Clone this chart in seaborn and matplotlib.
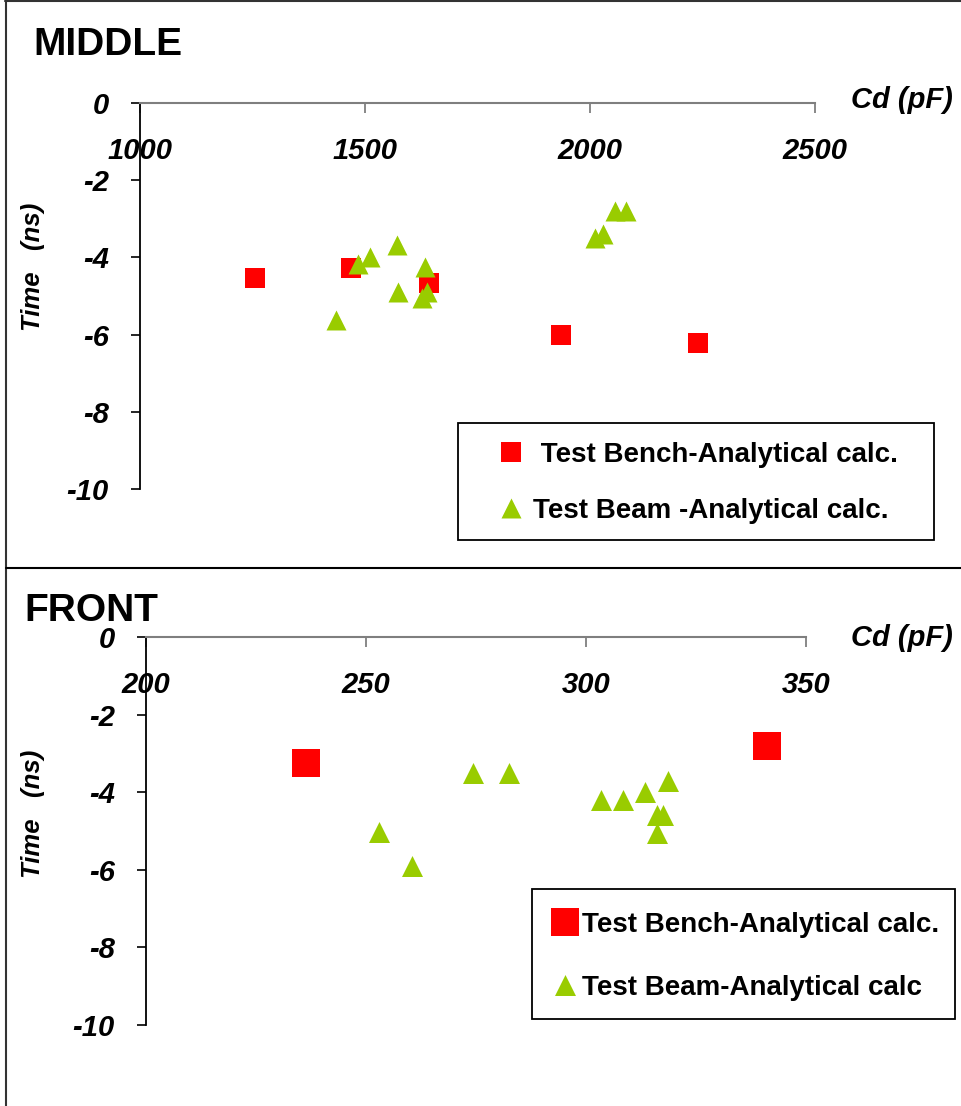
import matplotlib
matplotlib.use("Agg")
import matplotlib.pyplot as plt
from matplotlib.lines import Line2D
from matplotlib.patches import Rectangle
import seaborn as sns

# Timing offset vs detector capacitance, MIDDLE layer
mid_bench_cd = [1256, 1468, 1642, 1936, 2241]
mid_bench_t = [-4.53, -4.28, -4.67, -6.02, -6.22]
mid_beam_cd = [1435, 1485, 1511, 1570, 1574, 1626, 1633, 1638, 2012, 2030, 2056, 2081]
mid_beam_t = [-5.63, -4.18, -3.99, -3.69, -4.89, -5.05, -4.24, -4.89, -3.50, -3.40, -2.81, -2.81]

# Timing offset vs detector capacitance, FRONT layer
front_bench_cd = [236.4, 341.2]
front_bench_t = [-3.26, -2.82]
front_beam_cd = [253.0, 260.5, 274.4, 282.6, 303.4, 308.3, 313.4, 316.1, 316.1, 317.4, 318.7]
front_beam_t = [-5.03, -5.91, -3.51, -3.51, -4.19, -4.19, -4.00, -5.04, -4.59, -4.59, -3.70]

mid_xticks = [1000, 1500, 2000, 2500]
front_xticks = [200, 250, 300, 350]
yticks = [0, -2, -4, -6, -8, -10]

mid_labels = [" Test Bench-Analytical calc.", "Test Beam -Analytical calc."]
front_labels = ["Test Bench-Analytical calc.", "Test Beam-Analytical calc"]

RED = "#FF0000"
GREEN = "#99CC00"

sns.set_theme(style="white")
plt.rcParams["font.family"] = ["Liberation Sans", "DejaVu Sans"]
plt.rcParams["text.color"] = "black"
plt.rcParams["axes.labelcolor"] = "black"
plt.rcParams["xtick.labelcolor"] = "black"
plt.rcParams["ytick.labelcolor"] = "black"

W, H = 962, 1106
fig = plt.figure(figsize=(W / 100, H / 100), dpi=100)


def fx(x):
    return x / W


def fy(y):
    return 1 - y / H


def px_axes(left, top, right, bottom):
    return fig.add_axes([fx(left), fy(bottom), (right - left) / W, (bottom - top) / H])


def style_axes(ax, xticks, xlim):
    ax.set_xlim(*xlim)
    ax.set_ylim(-10, 0)
    ax.set_xticks(xticks)
    ax.set_yticks(yticks)
    ax.set_xticklabels([str(v) for v in xticks])
    ax.set_yticklabels([str(v) for v in yticks])
    for s in ("bottom", "right"):
        ax.spines[s].set_visible(False)
    ax.spines["top"].set_color("#7f7f7f")
    ax.spines["top"].set_linewidth(1.5)
    ax.spines["left"].set_color("black")
    ax.spines["left"].set_linewidth(1.3)
    ax.xaxis.set_ticks_position("top")
    ax.tick_params(axis="x", which="both", top=True, bottom=False, labeltop=True,
                   labelbottom=False, direction="in", length=7, width=1.3,
                   color="#7f7f7f", pad=-44.5, labelsize=21, labelcolor="black")
    ax.tick_params(axis="y", which="both", left=True, direction="out", length=6.5,
                   width=1.2, color="black", pad=16, labelsize=21, labelcolor="black")
    for lab in ax.get_xticklabels() + ax.get_yticklabels():
        lab.set_fontweight("bold")
        lab.set_fontstyle("italic")
    ax.set_xlabel("")
    ax.set_ylabel("")
    ax.grid(False)
    ax.set_facecolor("none")


def add_legend(ax, left, top, handlelength, textpad, spacing):
    leg = ax.legend(loc="upper left", bbox_to_anchor=(fx(left), fy(top)),
                    bbox_transform=fig.transFigure, borderaxespad=0, borderpad=0,
                    frameon=False, prop={"weight": "bold", "size": 20},
                    handlelength=handlelength, handletextpad=textpad,
                    labelspacing=spacing, scatterpoints=1, scatteryoffsets=[0.5])
    for t in leg.get_texts():
        t.set_color("black")
    return leg


def add_box(left, top, right, bottom):
    fig.add_artist(Rectangle((fx(left), fy(bottom)), (right - left) / W, (bottom - top) / H,
                             transform=fig.transFigure, facecolor="none",
                             edgecolor="black", linewidth=1.3))


# MIDDLE panel
ax1 = px_axes(140, 103, 815, 489)
sns.scatterplot(x=mid_bench_cd, y=mid_bench_t, ax=ax1, marker="s", color=RED,
                s=228, linewidth=0, label=mid_labels[0], zorder=3)
sns.scatterplot(x=mid_beam_cd, y=mid_beam_t, ax=ax1, marker="^", color=GREEN,
                s=207, linewidth=0, label=mid_labels[1], zorder=4)
style_axes(ax1, mid_xticks, (1000, 2500))
add_legend(ax1, 497, 442, 1.0, 0.29, 1.065)
add_box(458, 423, 934, 540)

# FRONT panel
ax2 = px_axes(146, 637, 806, 1025)
sns.scatterplot(x=front_bench_cd, y=front_bench_t, ax=ax2, marker="s", color=RED,
                s=378, linewidth=0, label=front_labels[0], zorder=3)
sns.scatterplot(x=front_beam_cd, y=front_beam_t, ax=ax2, marker="^", color=GREEN,
                s=228, linewidth=0, label=front_labels[1], zorder=4)
style_axes(ax2, front_xticks, (200, 350))
add_legend(ax2, 551.6, 912, 1.0, 0.09, 1.32)
add_box(532, 889, 955, 1019)

# Panel titles, axis captions
fig.text(fx(33), fy(55), "MIDDLE", fontsize=28, fontweight="bold", va="baseline")
fig.text(fx(24), fy(621), "FRONT", fontsize=28, fontweight="bold", va="baseline")
for base in (108, 646):
    fig.text(fx(953), fy(base), "Cd (pF)", fontsize=21, fontweight="bold",
             fontstyle="italic", ha="right", va="baseline")
for cy in (267, 814):
    fig.text(fx(33), fy(cy), "Time   (ns)", fontsize=18.5, fontweight="bold",
             fontstyle="italic", rotation=90, ha="center", va="center")

# Frame lines around and between the panels
for xs, ys, c in (((5, W), (1, 1), "#333333"),
                  ((6, 6), (0, H), "#333333"),
                  ((6, W), (568, 568), "black")):
    fig.add_artist(Line2D([fx(x) for x in xs], [fy(y) for y in ys],
                          transform=fig.transFigure, color=c, linewidth=1.5))

fig.savefig("out.png", dpi=100, facecolor="white")
